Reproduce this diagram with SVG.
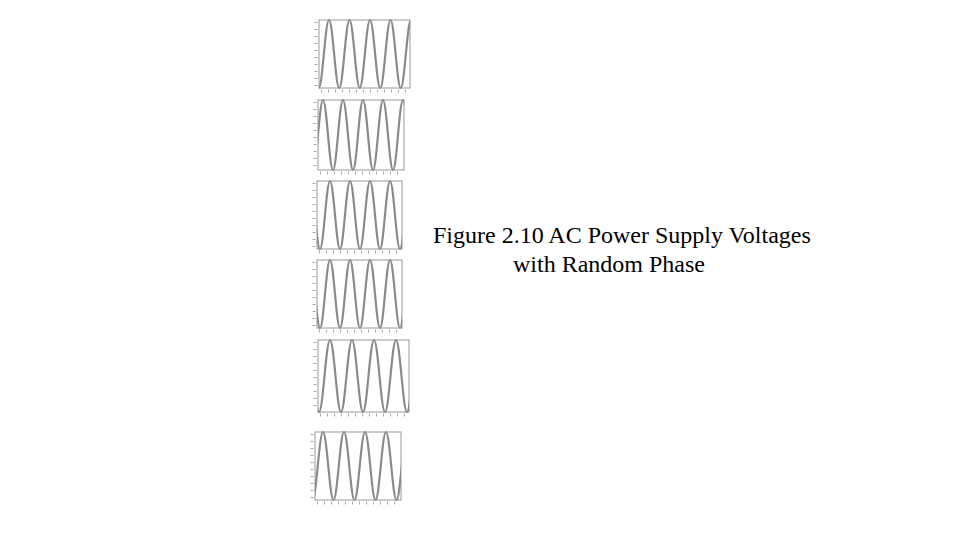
<svg xmlns="http://www.w3.org/2000/svg" width="960" height="540" viewBox="0 0 960 540">
<style>
.frame{fill:none;stroke:#999;stroke-width:1}
.wave{fill:none;stroke:#8a8a8a;stroke-width:2.2}
.tick{stroke:#aaa;stroke-width:3;stroke-dasharray:1 6}
.t{font-family:"Liberation Serif",serif;font-size:24px;fill:#000}
</style>
<defs>
<path id="w" vector-effect="non-scaling-stroke" fill="none" d="M0 0c.1821 0 .3179 1 .5 1c.1821 0 .3179 -1 .5 -1c.1821 0 .3179 1 .5 1c.1821 0 .3179 -1 .5 -1c.1821 0 .3179 1 .5 1c.1821 0 .3179 -1 .5 -1c.1821 0 .3179 1 .5 1c.1821 0 .3179 -1 .5 -1c.1821 0 .3179 1 .5 1c.1821 0 .3179 -1 .5 -1c.1821 0 .3179 1 .5 1c.1821 0 .3179 -1 .5 -1c.1821 0 .3179 1 .5 1c.1821 0 .3179 -1 .5 -1"/>
<clipPath id="c1"><rect x="319" y="18" width="91" height="72"/></clipPath>
<clipPath id="c2"><rect x="318" y="98" width="86" height="74"/></clipPath>
<clipPath id="c3"><rect x="317" y="179" width="85" height="72"/></clipPath>
<clipPath id="c4"><rect x="317" y="258" width="85" height="72"/></clipPath>
<clipPath id="c5"><rect x="318" y="338" width="91" height="76"/></clipPath>
<clipPath id="c6"><rect x="315" y="430" width="86" height="72"/></clipPath>
</defs>
<rect width="960" height="540" fill="#fff"/>
<g id="plot1">
<rect class="frame" x="319" y="20" width="91" height="68"/>
<line class="tick" x1="316" y1="22" x2="316" y2="88"/><line class="tick" x1="321" y1="91" x2="410" y2="91"/>
<g clip-path="url(#c1)"><use href="#w" class="wave" transform="translate(308.5 20) scale(20.5 68)"/></g>
</g>
<g id="plot2">
<rect class="frame" x="318" y="100" width="86" height="70"/>
<line class="tick" x1="315" y1="102" x2="315" y2="170"/><line class="tick" x1="320" y1="173" x2="404" y2="173"/>
<g clip-path="url(#c2)"><use href="#w" class="wave" transform="translate(303 100) scale(20 70)"/></g>
</g>
<g id="plot3">
<rect class="frame" x="317" y="181" width="85" height="68"/>
<line class="tick" x1="314" y1="183" x2="314" y2="249"/><line class="tick" x1="319" y1="252" x2="402" y2="252"/>
<g clip-path="url(#c3)"><use href="#w" class="wave" transform="translate(310 181) scale(20 68)"/></g>
</g>
<g id="plot4">
<rect class="frame" x="317" y="260" width="85" height="68"/>
<line class="tick" x1="314" y1="262" x2="314" y2="328"/><line class="tick" x1="319" y1="331" x2="402" y2="331"/>
<g clip-path="url(#c4)"><use href="#w" class="wave" transform="translate(310 260) scale(20 68)"/></g>
</g>
<g id="plot5">
<rect class="frame" x="318" y="340" width="91" height="72"/>
<line class="tick" x1="315" y1="342" x2="315" y2="412"/><line class="tick" x1="320" y1="415" x2="409" y2="415"/>
<g clip-path="url(#c5)"><use href="#w" class="wave" transform="translate(308 340) scale(22 72)"/></g>
</g>
<g id="plot6">
<rect class="frame" x="315" y="432" width="86" height="68"/>
<line class="tick" x1="312" y1="434" x2="312" y2="500"/><line class="tick" x1="317" y1="503" x2="401" y2="503"/>
<g clip-path="url(#c6)"><use href="#w" class="wave" transform="translate(302 432) scale(21 68)"/></g>
</g>
<g id="caption">
<text class="t" x="433" y="243">Figure 2.10 AC Power Supply Voltages</text>
<text class="t" x="513" y="272">with Random Phase</text>
</g>
</svg>
